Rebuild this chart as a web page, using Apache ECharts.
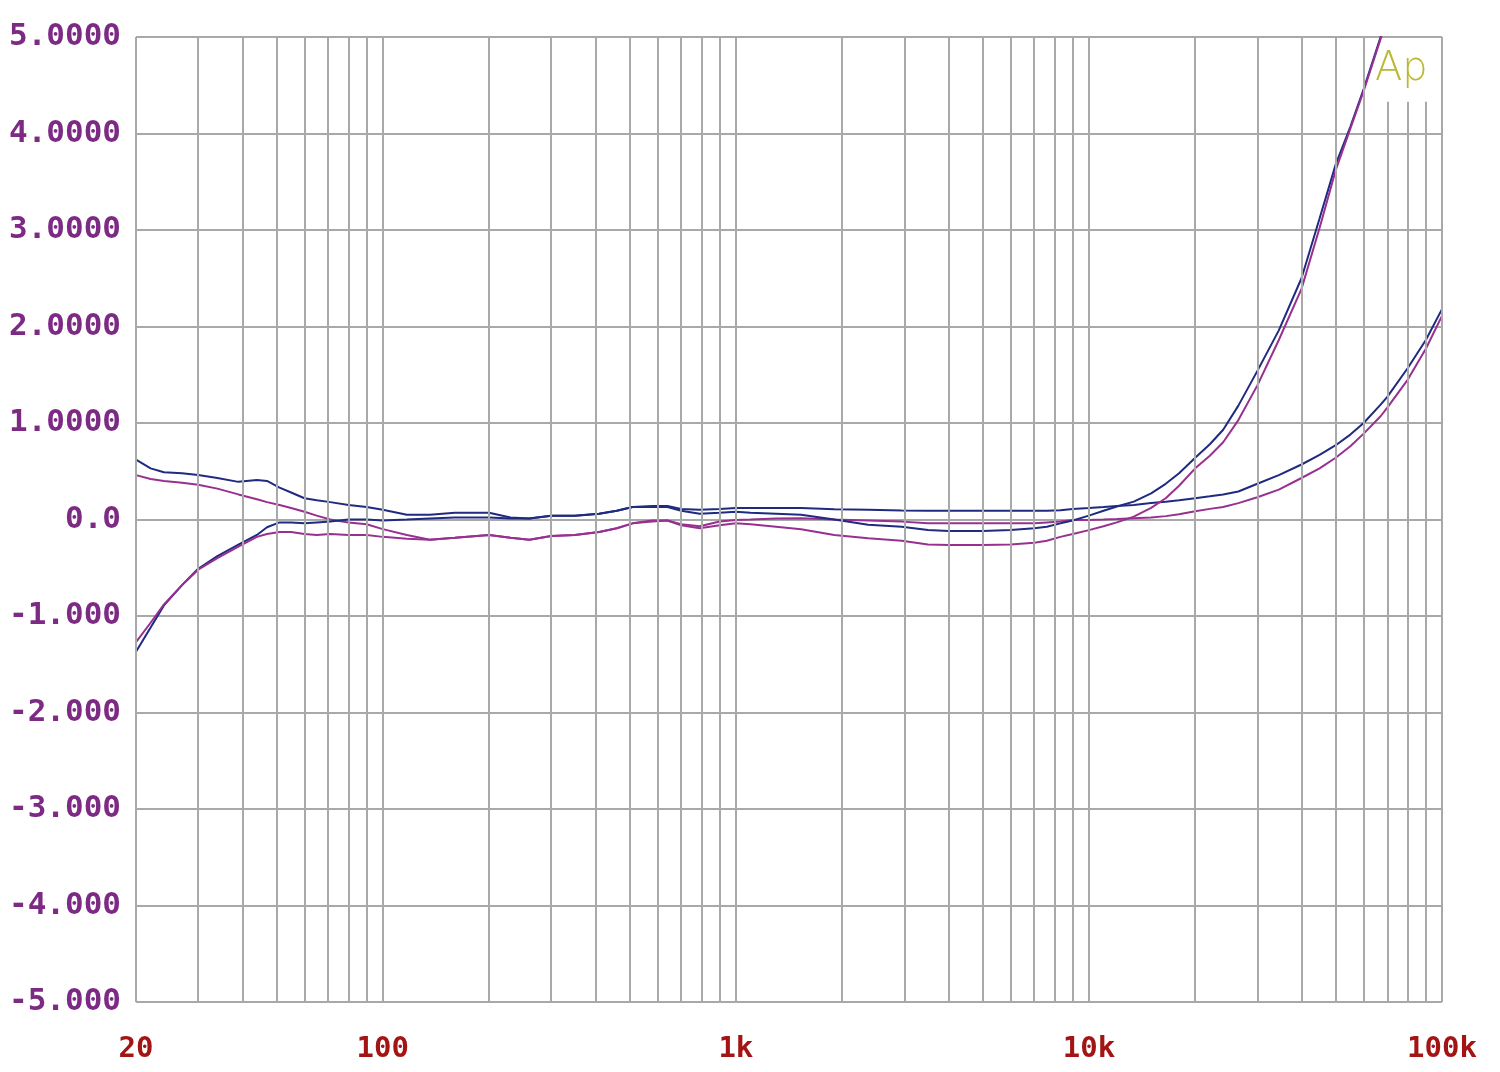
<!DOCTYPE html>
<html>
<head>
<meta charset="utf-8">
<script src="https://cdn.jsdelivr.net/npm/echarts@6/dist/echarts.min.js"></script>
<style>
html,body{margin:0;padding:0;background:#fff;}
#chart{width:1500px;height:1072px;}
</style>
</head>
<body>
<div id="chart"></div>
<script>
// Frequencies (Hz)
const freq = [20,22,24,27,30,34,39,44,47,51,55,60,65,71,80,90,100,117,136,160,200,230,260,300,350,410,460,510,580,640,700,790,900,1000,1100,1300,1530,1900,2370,2950,3500,4000,5000,6000,7000,7600,8300,9000,10000,11000,12000,13400,15000,16500,18000,20000,22000,24000,26500,30000,34500,40000,45000,50000,55000,60000,67000,70000,80000,90000,100000];

// Series values
const blueA = [-1.37,-1.12,-0.89,-0.68,-0.51,-0.38,-0.26,-0.16,-0.08,-0.03,-0.03,-0.04,-0.03,-0.02,0.0,0.0,-0.01,0.0,0.01,0.02,0.02,0.01,0.01,0.04,0.04,0.06,0.09,0.13,0.13,0.13,0.09,0.06,0.07,0.08,0.07,0.06,0.05,0.0,-0.055,-0.075,-0.11,-0.12,-0.12,-0.11,-0.09,-0.075,-0.04,-0.01,0.04,0.09,0.135,0.185,0.27,0.37,0.48,0.64,0.78,0.93,1.18,1.54,1.96,2.5,3.12,3.68,4.07,4.46,5.0,5.2,null,null,null];
const blueB = [0.62,0.53,0.49,0.48,0.46,0.43,0.39,0.41,0.40,0.33,0.28,0.22,0.20,0.18,0.15,0.13,0.10,0.05,0.05,0.07,0.07,0.02,0.01,0.04,0.04,0.06,0.09,0.13,0.14,0.14,0.11,0.10,0.11,0.12,0.12,0.12,0.12,0.105,0.10,0.092,0.09,0.09,0.09,0.09,0.09,0.09,0.095,0.11,0.12,0.13,0.14,0.15,0.17,0.185,0.20,0.22,0.24,0.26,0.29,0.37,0.46,0.57,0.67,0.77,0.88,1.0,1.19,1.27,1.57,1.86,2.18];
const purpleA = [-1.27,-1.07,-0.88,-0.68,-0.52,-0.40,-0.28,-0.18,-0.15,-0.13,-0.13,-0.15,-0.16,-0.15,-0.16,-0.16,-0.18,-0.20,-0.21,-0.19,-0.16,-0.19,-0.21,-0.17,-0.16,-0.13,-0.09,-0.04,-0.02,-0.01,-0.06,-0.09,-0.06,-0.04,-0.05,-0.075,-0.10,-0.16,-0.195,-0.22,-0.26,-0.264,-0.264,-0.26,-0.24,-0.22,-0.18,-0.15,-0.11,-0.07,-0.03,0.03,0.12,0.22,0.35,0.53,0.66,0.80,1.03,1.39,1.86,2.39,3.02,3.62,4.05,4.44,4.98,5.2,null,null,null];
const purpleB = [0.46,0.42,0.40,0.38,0.36,0.32,0.26,0.21,0.18,0.15,0.12,0.08,0.04,0.0,-0.03,-0.05,-0.10,-0.16,-0.21,-0.19,-0.16,-0.19,-0.21,-0.17,-0.16,-0.13,-0.09,-0.04,-0.01,-0.01,-0.05,-0.07,-0.02,-0.005,0.0,0.01,0.013,0.0,-0.01,-0.022,-0.04,-0.04,-0.04,-0.04,-0.04,-0.03,-0.02,-0.005,-0.005,0.0,0.005,0.013,0.02,0.035,0.055,0.085,0.11,0.13,0.17,0.23,0.31,0.43,0.53,0.64,0.76,0.89,1.07,1.16,1.45,1.77,2.11];

// Axis ticks / labels
const xLabelValues = [20,100,1000,10000,100000];
const xLabelText = ['20','100','1k','10k','100k'];
const yTickText = {'5':'5.0000','4':'4.0000','3':'3.0000','2':'2.0000','1':'1.0000','0':'0.0','-1':'-1.000','-2':'-2.000','-3':'-3.000','-4':'-4.000','-5':'-5.000'};
// Vertical grid lines (full height) and short ones under the logo
const gridFull = [20,30,40,50,60,70,80,90,100,200,300,400,500,600,700,800,900,1000,2000,3000,4000,5000,6000,7000,8000,9000,10000,20000,30000,40000,50000,60000,100000];
const gridShort = [70000,80000,90000];
const shortTop = 4.33;

const GRID = '#a9a9a9';
const BLUE = '#1f2a80';
const PURPLE = '#983090';

function pairs(vals){ return freq.map((f,i)=>[f, vals[i]]); }

const vLines = gridFull.map(f=>[{coord:[f,-5]},{coord:[f,5]}])
  .concat(gridShort.map(f=>[{coord:[f,-5]},{coord:[f,shortTop]}]));

const chart = echarts.init(document.getElementById('chart'), null, {renderer:'canvas'});
chart.setOption({
  animation:false,
  backgroundColor:'#ffffff',
  grid:{left:136, right:58, top:37, bottom:70, containLabel:false},
  xAxis:{
    type:'log', logBase:10, min:20, max:100000,
    axisLine:{show:false}, axisTick:{show:false},
    splitLine:{show:false}, minorSplitLine:{show:false},
    axisLabel:{
      customValues:xLabelValues,
      formatter:function(v){ const i = xLabelValues.findIndex(x=>Math.abs(x-v)/x<1e-6); return i>=0?xLabelText[i]:''; },
      color:'#a31515', fontFamily:'DejaVu Sans Mono', fontWeight:'bold', fontSize:29, margin:33
    }
  },
  yAxis:{
    type:'value', min:-5, max:5, interval:1,
    axisLine:{show:false}, axisTick:{show:false},
    splitLine:{show:true, lineStyle:{color:GRID, width:2}},
    axisLabel:{
      formatter:function(v){ return yTickText[String(Math.round(v))]; },
      color:'#7d2a85', fontFamily:'DejaVu Sans Mono', fontWeight:'bold', fontSize:31, margin:15
    }
  },
  graphic:[{
    type:'text', left:1375, top:50, z:10,
    style:{text:'Ap', fill:'#b9b933', font:'200 40px "DejaVu Sans"'}
  }],
  series:[
    {type:'line', name:'grid', data:[], silent:true,
      markLine:{silent:true, symbol:['none','none'], label:{show:false}, animation:false,
        lineStyle:{color:GRID, width:2, type:'solid'}, emphasis:{disabled:true}, data:vLines}, z:1},
    {type:'line', name:'blueB', data:pairs(blueB), showSymbol:false, symbol:'none', lineStyle:{color:BLUE, width:2}, itemStyle:{color:BLUE}, clip:true, z:3},
    {type:'line', name:'purpleB', data:pairs(purpleB), showSymbol:false, symbol:'none', lineStyle:{color:PURPLE, width:2}, itemStyle:{color:PURPLE}, clip:true, z:3},
    {type:'line', name:'blueA', data:pairs(blueA), showSymbol:false, symbol:'none', lineStyle:{color:BLUE, width:2}, itemStyle:{color:BLUE}, clip:true, z:3},
    {type:'line', name:'purpleA', data:pairs(purpleA), showSymbol:false, symbol:'none', lineStyle:{color:PURPLE, width:2}, itemStyle:{color:PURPLE}, clip:true, z:3}
  ]
});
</script>
</body>
</html>
